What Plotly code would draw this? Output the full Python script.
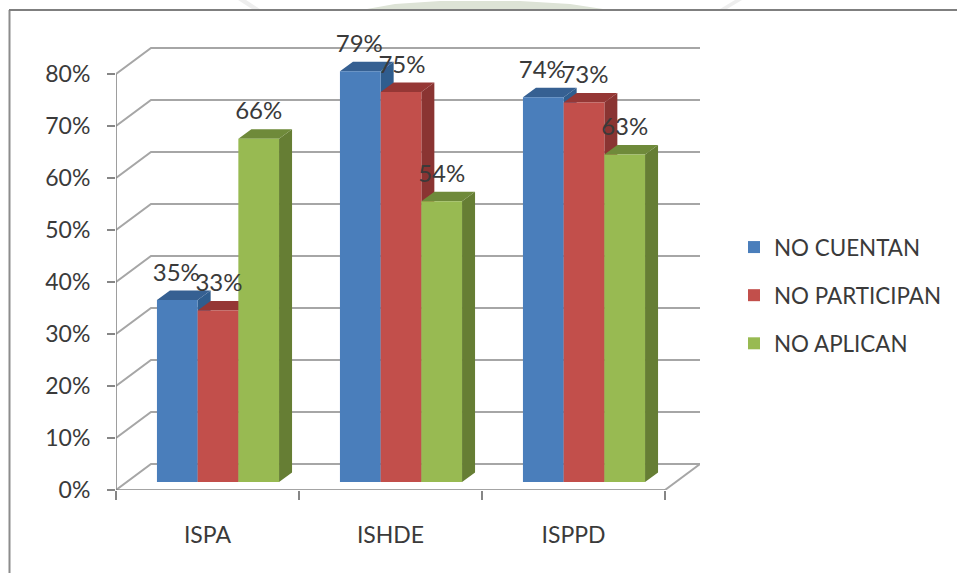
import plotly.graph_objects as go

categories = ["ISPA", "ISHDE", "ISPPD"]
no_cuentan = [35, 79, 74]
no_participan = [33, 75, 73]
no_aplican = [66, 54, 63]
series_names = ["NO CUENTAN", "NO PARTICIPAN", "NO APLICAN"]
y_ticks = [0, 10, 20, 30, 40, 50, 60, 70, 80]
y_labels = ["0%", "10%", "20%", "30%", "40%", "50%", "60%", "70%", "80%"]

FRONT = ["#4A7EBB", "#C24F4B", "#98BA52"]
TOP = ["#366092", "#953735", "#6F8A3A"]
SIDE = ["#2F5D8E", "#8A3432", "#667E34"]
GRID = "#A6A6A6"
AXIS = "#868686"
TEXT = "#3A3A3A"
FONT = "Lato"

W, H = 957, 573
L, R, T, B = 116, 700, 30, 490        # plot area in pixels
CAT_PX = 183.0                        # one category
Y_PX = 5.2                            # one percent
X0, X1 = -0.5, -0.5 + (R - L) / CAT_PX
Y0, Y1 = 0, (B - T) / Y_PX

def ux(px): return px / CAT_PX
def uy(px): return px / Y_PX

WALL_DX, WALL_DY = ux(35), uy(26)     # depth of the floor and side wall
BAR_W = ux(40.7)
BAR_SHIFT = ux(10.5)                  # bars stand inside the floor
BAR_BASE = uy(8)
BAR_DX, BAR_DY = ux(13), uy(9.5)      # depth of each bar
LABEL_NUDGE = [ux(-7.5), ux(-5.5), ux(-6.5)]

fig = go.Figure()

# back wall, left wall and floor
gx, gy = [], []
for t in y_ticks:
    gx += [X0, X0 + WALL_DX, 2.5 + WALL_DX, None]
    gy += [t, t + WALL_DY, t + WALL_DY, None]
gx += [2.5, 2.5 + WALL_DX]
gy += [0, WALL_DY]
fig.add_trace(go.Scatter(x=gx, y=gy, mode="lines", line=dict(color=GRID, width=2),
                         showlegend=False, hoverinfo="skip", zorder=0, cliponaxis=False))
fig.add_trace(go.Scatter(x=[X0, X0, None, X0, 2.5], y=[0, 80, None, 0, 0], mode="lines",
                         line=dict(color=AXIS, width=1.6), cliponaxis=False,
                         showlegend=False, hoverinfo="skip", zorder=1))

all_values = [no_cuentan, no_participan, no_aplican]
for s, values in enumerate(all_values):
    centres = [i + BAR_SHIFT + (s - 1) * BAR_W for i in range(len(categories))]
    tx, ty, sx, sy = [], [], [], []
    for c, v in zip(centres, values):
        top = v + BAR_BASE
        l, r = c - BAR_W / 2, c + BAR_W / 2
        tx += [l, l + BAR_DX, r + BAR_DX, r, l, None]
        ty += [top, top + BAR_DY, top + BAR_DY, top, top, None]
        sx += [r, r + BAR_DX, r + BAR_DX, r, r, None]
        sy += [BAR_BASE, BAR_BASE + BAR_DY, top + BAR_DY, top, BAR_BASE, None]
    z = 2 + 2 * s
    fig.add_trace(go.Scatter(x=sx, y=sy, fill="toself", fillcolor=SIDE[s], mode="lines",
                             line=dict(width=0), showlegend=False, hoverinfo="skip", zorder=z))
    fig.add_trace(go.Scatter(x=tx, y=ty, fill="toself", fillcolor=TOP[s], mode="lines",
                             line=dict(width=0), showlegend=False, hoverinfo="skip", zorder=z))
    fig.add_trace(go.Bar(x=centres, y=values, base=[BAR_BASE] * len(values), width=BAR_W,
                         marker=dict(color=FRONT[s], line=dict(width=0)),
                         name=series_names[s], legendgroup=series_names[s], zorder=z + 1))
    fig.add_trace(go.Scatter(x=[c + BAR_DX / 2 + LABEL_NUDGE[s] for c in centres],
                             y=[v + BAR_BASE + BAR_DY + uy(4) for v in values],
                             text=[f"{v}%" for v in values], mode="text",
                             textposition="top center", cliponaxis=False,
                             textfont=dict(family=FONT, size=24, color=TEXT),
                             showlegend=False, hoverinfo="skip", zorder=20))

def px(x): return x / W
def py(y): return 1 - y / H

def path(points, close=True):
    d = "M " + " L ".join(f"{px(x):.5f},{py(y):.5f}" for x, y in points)
    return d + (" Z" if close else "")

WM = "#DDE3D6"
shapes = [
    dict(type="line", xref="paper", yref="paper", x0=px(9.5), x1=px(9.5), y0=0, y1=py(10),
         line=dict(color="#8C8C8C", width=2)),
    dict(type="line", xref="paper", yref="paper", x0=px(9), x1=1, y0=py(10), y1=py(10),
         line=dict(color="#7F7F7F", width=2)),
    dict(type="path", xref="paper", yref="paper", layer="below", line=dict(width=0), fillcolor=WM,
         path=path([(367, 9), (395, 4), (440, 1), (520, 1), (570, 4), (603, 9)])),
    dict(type="path", xref="paper", yref="paper", layer="below", line=dict(width=0), fillcolor="#EEEEEE",
         path=path([(238, 0), (246, 0), (260, 9), (252, 9)])),
    dict(type="path", xref="paper", yref="paper", layer="below", line=dict(width=0), fillcolor="#EEEEEE",
         path=path([(720, 9), (735, 0), (742, 0), (727, 9)])),
]

fig.update_layout(
    width=W, height=H, autosize=False,
    margin=dict(l=0, r=0, t=0, b=0, pad=0),
    paper_bgcolor="white", plot_bgcolor="rgba(0,0,0,0)",
    barmode="overlay", shapes=shapes,
    font=dict(family=FONT, size=21, color=TEXT),
    xaxis=dict(domain=[L / W, R / W], range=[X0, X1], tickmode="array", tickvals=list(range(3)),
               ticktext=categories, automargin=False,
               ticks="outside", ticklen=24, tickcolor="rgba(0,0,0,0)", showgrid=False, zeroline=False,
               showline=False, tickfont=dict(family=FONT, size=23, color=TEXT),
               minor=dict(tickmode="array", tickvals=[-0.5, 0.5, 1.5, 2.5], ticks="outside",
                          ticklen=9, tickcolor=AXIS, tickwidth=1.6, showgrid=False)),
    yaxis=dict(domain=[1 - B / H, 1 - T / H], range=[Y0, Y1], tickmode="array", tickvals=y_ticks,
               ticktext=y_labels, automargin=False,
               ticks="outside", ticklen=8, tickcolor=AXIS, tickwidth=1.6, showgrid=False,
               ticklabelstandoff=12,
               zeroline=False, showline=False, tickfont=dict(family=FONT, size=23, color=TEXT)),
    legend=dict(x=px(734), y=py(226), xref="paper", yref="paper", xanchor="left", yanchor="top",
                font=dict(family=FONT, size=22.4, color=TEXT), tracegroupgap=16,
                bgcolor="rgba(0,0,0,0)", itemclick=False, itemdoubleclick=False),
)
fig.write_html("out.html", config=dict(displayModeBar=False),
               post_script="document.body.style.margin='0';")
